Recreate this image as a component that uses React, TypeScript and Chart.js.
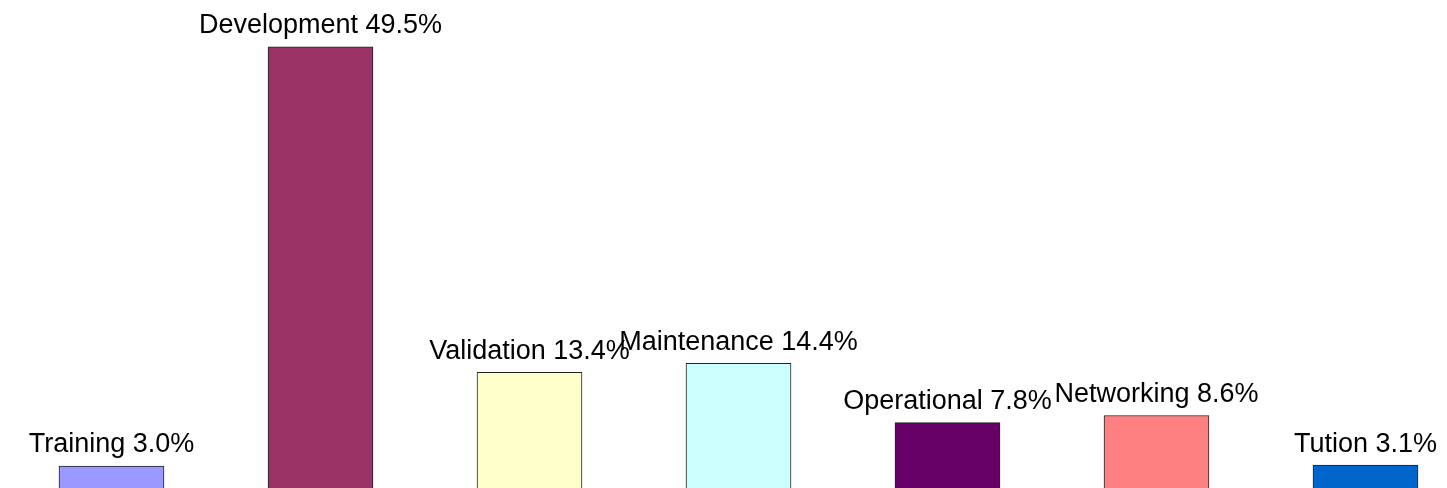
import React, { useEffect, useRef } from "react";
import { Chart, registerables } from "chart.js";

Chart.register(...registerables);

const categories = ["Training", "Development", "Validation", "Maintenance", "Operational", "Networking", "Tution"];
const values = [3.0, 49.5, 13.4, 14.4, 7.8, 8.6, 3.1];
const barColors = ["#9999FF", "#993366", "#FFFFCC", "#CCFFFF", "#660066", "#FF8080", "#0066CC"];

const labelPlugin = {
  id: "barLabels",
  afterDatasetsDraw(chart: any) {
    const ctx = chart.ctx;
    const meta = chart.getDatasetMeta(0);
    ctx.save();
    ctx.font = '27px "Liberation Sans", Arial, sans-serif';
    ctx.fillStyle = "#000000";
    ctx.textAlign = "center";
    ctx.textBaseline = "alphabetic";
    meta.data.forEach((bar: any, i: number) => {
      const text = `${categories[i]} ${values[i].toFixed(1)}%`;
      ctx.fillText(text, bar.x, bar.y - 13.5);
    });
    ctx.restore();
  },
};

export default function App() {
  const ref = useRef<HTMLCanvasElement>(null);
  useEffect(() => {
    if (!ref.current) return;
    const chart = new Chart(ref.current, {
      type: "bar",
      data: {
        labels: categories,
        datasets: [
          {
            data: values,
            backgroundColor: barColors,
            borderColor: "#222222",
            borderWidth: 1,
            borderSkipped: false,
            barThickness: 105,
          },
        ],
      },
      options: {
        responsive: false,
        animation: false,
        devicePixelRatio: 1,
        layout: { padding: 0 },
        plugins: { legend: { display: false }, tooltip: { enabled: false } },
        scales: {
          x: { display: false, offset: true },
          y: { display: false, min: 0, max: 54.7 },
        },
      },
      plugins: [labelPlugin],
    });
    return () => chart.destroy();
  }, []);
  return (
    <div
      style={{
        position: "fixed",
        left: 0,
        top: 0,
        width: 1447,
        height: 488,
        overflow: "hidden",
        background: "#ffffff",
      }}
    >
      <canvas
        ref={ref}
        width={1463}
        height={493}
        style={{ position: "absolute", left: 7, top: 0, width: 1463, height: 493 }}
      />
    </div>
  );
}
